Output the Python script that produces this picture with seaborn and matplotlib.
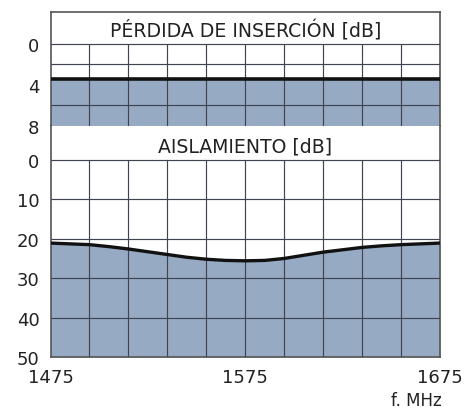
import numpy as np
import pandas as pd
import matplotlib
matplotlib.use("Agg")
import matplotlib.pyplot as plt
import seaborn as sns

# ---- data ----
freq = [1475, 1485, 1495, 1505, 1515, 1525, 1535, 1545, 1555, 1565, 1575,
        1585, 1595, 1605, 1615, 1625, 1635, 1645, 1655, 1665, 1675]
insertion_loss = [3.4] * len(freq)
isolation = [21.1, 21.3, 21.5, 22.0, 22.6, 23.3, 24.0, 24.7, 25.2, 25.5, 25.6,
             25.5, 25.0, 24.2, 23.4, 22.8, 22.2, 21.8, 21.5, 21.3, 21.1]
x_grid = [1495, 1515, 1535, 1555, 1575, 1595, 1615, 1635, 1655]
x_ticks = [1475, 1575, 1675]
top_yticks = [0, 4, 8]
top_grid = [0, 2, 6]
bot_yticks = [0, 10, 20, 30, 40, 50]
bot_grid = [0, 10, 20, 30, 40]
top_title = "PÉRDIDA DE INSERCIÓN [dB]"
bot_title = "AISLAMIENTO [dB]"
x_label = "f. MHz"

sns.set_theme(style="white")
plt.rcParams['font.family'] = ['DejaVu Sans']

df_top = pd.DataFrame({"f": freq, "v": insertion_loss})
df_bot = pd.DataFrame({"f": freq, "v": isolation})

W, H = 466, 410
fig = plt.figure(figsize=(W / 100, H / 100), dpi=100)
fig.patch.set_facecolor("white")

L, R = 50.5, 440.0
def px_axes(top, bottom):
    return fig.add_axes([L / W, 1 - bottom / H, (R - L) / W, (bottom - top) / H])

ax1 = px_axes(12.7, 127.0)
ax2 = px_axes(127.0, 358.0)

fill_c = "#97aac4"
grid_c = "#3f4450"
frame_c = "#555555"
txt_c = "#222222"
tick_fs = 13

def style(ax, ymax, ymin_title, grid_vals, yticks, title, title_y):
    ax.set_xlim(freq[0], freq[-1])
    ax.set_ylim(ymax, ymin_title)
    ax.set_facecolor("white")
    for y in grid_vals:
        ax.axhline(y, color=grid_c, lw=0.85, zorder=3)
    ax.vlines(x_grid, 0, ymax, color=grid_c, lw=0.85, zorder=3)
    ax.set_yticks(yticks)
    ax.set_yticklabels([str(t) for t in yticks], fontsize=tick_fs, color=txt_c)
    ax.tick_params(axis="y", length=0, pad=8)
    ax.set_xlabel("")
    ax.set_ylabel("")
    ax.text(0.5, title_y, title, transform=ax.transAxes, ha="center", va="center",
            fontsize=13.6, color=txt_c)
    for s in ax.spines.values():
        s.set_color(frame_c)
        s.set_linewidth(1.2)

# top panel
ax1.fill_between(freq, insertion_loss, 8, color=fill_c, zorder=1, lw=0)
sns.lineplot(data=df_top, x="f", y="v", ax=ax1, color="#111111", lw=2.6, zorder=5)
style(ax1, 8, -3.15, top_grid, top_yticks, top_title, 0.84)
ax1.spines["bottom"].set_visible(False)
ax1.set_xticks([])

# bottom panel
ax2.fill_between(freq, isolation, 50, color=fill_c, zorder=1, lw=0)
sns.lineplot(data=df_bot, x="f", y="v", ax=ax2, color="#111111", lw=2.4, zorder=5)
style(ax2, 50, -8.6, bot_grid, bot_yticks, bot_title, 0.915)
ax2.spines["top"].set_visible(False)
ax2.set_xticks(x_ticks)
ax2.set_xticklabels([str(t) for t in x_ticks], fontsize=tick_fs, color=txt_c)
ax2.tick_params(axis="x", length=0, pad=8)
ax2.set_xlabel("")

fig.text(416 / W, 1 - 401 / H, x_label, ha="center", va="center", fontsize=12, color=txt_c)

fig.savefig("out.png", dpi=100, facecolor="white")
